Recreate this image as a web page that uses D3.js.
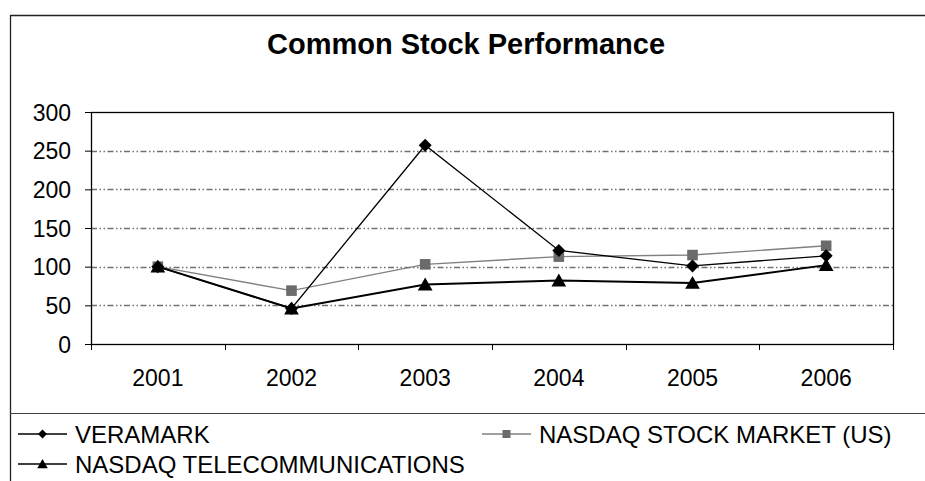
<!DOCTYPE html>
<html><head><meta charset="utf-8">
<script src="https://cdn.jsdelivr.net/npm/d3@7"></script>
<style>body{margin:0;background:#fff;}svg{display:block;font-family:"Liberation Sans",Arial,sans-serif;}</style>
</head><body><svg id="c" width="925" height="481"></svg>
<script>
const years = ["2001","2002","2003","2004","2005","2006"];
const veramark = [100, 46, 257, 121, 101, 114];
const nasdaqStock = [100, 69, 103, 113, 115, 127];
const nasdaqTelecom = [100, 46, 77, 82, 79, 102];
const yTicks = [0, 50, 100, 150, 200, 250, 300];
const seriesNames = ["VERAMARK", "NASDAQ STOCK MARKET (US)", "NASDAQ TELECOMMUNICATIONS"];

const svg = d3.select("#c");
const L = 91, R = 893, T = 112, B = 344;
const x = d3.scaleBand().domain(years).range([L, R]);
const y = d3.scaleLinear().domain([0, 300]).range([B, T]);
const FONT = "Liberation Sans, Arial, sans-serif";

// outer frame
svg.append("path").attr("d", "M10.5,481 V15.5 H925").attr("fill", "none").attr("stroke", "#222").attr("stroke-width", 1.3);
svg.append("line").attr("x1", 10).attr("x2", 925).attr("y1", 413.5).attr("y2", 413.5).attr("stroke", "#444").attr("stroke-width", 1.2);

svg.append("text").attr("x", 466).attr("y", 54).attr("text-anchor", "middle")
  .attr("font-size", 29).attr("font-weight", "bold").text("Common Stock Performance");

// gridlines
svg.append("g").selectAll("line").data(yTicks.filter(d => d > 0 && d < 300)).join("line")
  .attr("x1", L).attr("x2", R).attr("y1", d => Math.round(y(d)) + 0.5).attr("y2", d => Math.round(y(d)) + 0.5)
  .attr("stroke", "#707070").attr("stroke-width", 1.4).attr("stroke-dasharray", "6,2.5,1.5,2.5,1.5,2.5");

// axes
const ya = svg.append("g").attr("transform", `translate(${L},0)`)
  .call(d3.axisLeft(y).tickValues(yTicks).tickSize(6).tickPadding(14));
ya.select(".domain").remove();
ya.selectAll("line").attr("stroke", "#000");
ya.selectAll("text").attr("font-size", 23).attr("fill", "#000").attr("font-family", FONT).attr("dy", "0.36em");

const xa = svg.append("g").attr("transform", `translate(0,${B})`)
  .call(d3.axisBottom(x).tickSize(0).tickPadding(26));
xa.select(".domain").remove();
xa.selectAll("text").attr("font-size", 23).attr("fill", "#000").attr("font-family", FONT);
svg.append("g").selectAll("line").data(years.concat(["end"])).join("line")
  .attr("x1", (d, i) => Math.round(L + i * x.bandwidth()) + 0.5).attr("x2", (d, i) => Math.round(L + i * x.bandwidth()) + 0.5)
  .attr("y1", B).attr("y2", B + 6).attr("stroke", "#000");

svg.append("rect").attr("x", L + 0.5).attr("y", T + 0.5).attr("width", R - L).attr("height", B - T)
  .attr("fill", "none").attr("stroke", "#000").attr("stroke-width", 1.3);

const cx = d => x(d) + x.bandwidth() / 2;
const line = d3.line().x((d, i) => cx(years[i])).y(d => y(d));

const shapes = {
  diamond: r => `M0,${-r}L${r},0L0,${r}L${-r},0Z`,
  square: r => `M${-r},${-r}H${r}V${r}H${-r}Z`,
  triangle: r => `M0,${-r}L${r * 1.05},${r * 0.85}H${-r * 1.05}Z`
};
const stock = {name: seriesNames[1], vals: nasdaqStock, color: "#808080", width: 1.4, m: "square", mc: "#6b6b6b", r: 5.3};
const vera = {name: seriesNames[0], vals: veramark, color: "#000", width: 1.3, m: "diamond", mc: "#000", r: 6.5};
const tele = {name: seriesNames[2], vals: nasdaqTelecom, color: "#000", width: 2, m: "triangle", mc: "#000", r: 7};
[stock, vera, tele].forEach(s => {
  svg.append("path").datum(s.vals).attr("d", line).attr("fill", "none").attr("stroke", s.color).attr("stroke-width", s.width);
  svg.append("g").selectAll("path").data(s.vals).join("path")
    .attr("transform", (d, i) => `translate(${cx(years[i])},${y(d)})`)
    .attr("d", shapes[s.m](s.r)).attr("fill", s.mc);
});

// legend
const leg = [
  {s: vera, x: 18, y: 434, sr: 4.5},
  {s: stock, x: 482, y: 434, sr: 4},
  {s: tele, x: 18, y: 464, sr: 5}
];
leg.forEach(l => {
  svg.append("line").attr("x1", l.x).attr("x2", l.x + 49).attr("y1", l.y).attr("y2", l.y)
    .attr("stroke", l.s.color).attr("stroke-width", 1.6);
  svg.append("path").attr("transform", `translate(${l.x + 24.5},${l.y})`).attr("d", shapes[l.s.m](l.sr)).attr("fill", l.s.mc);
  svg.append("text").attr("x", l.x + 57).attr("y", l.y + 8.5).attr("font-size", 24).attr("font-family", FONT).text(l.s.name);
});
</script></body></html>
